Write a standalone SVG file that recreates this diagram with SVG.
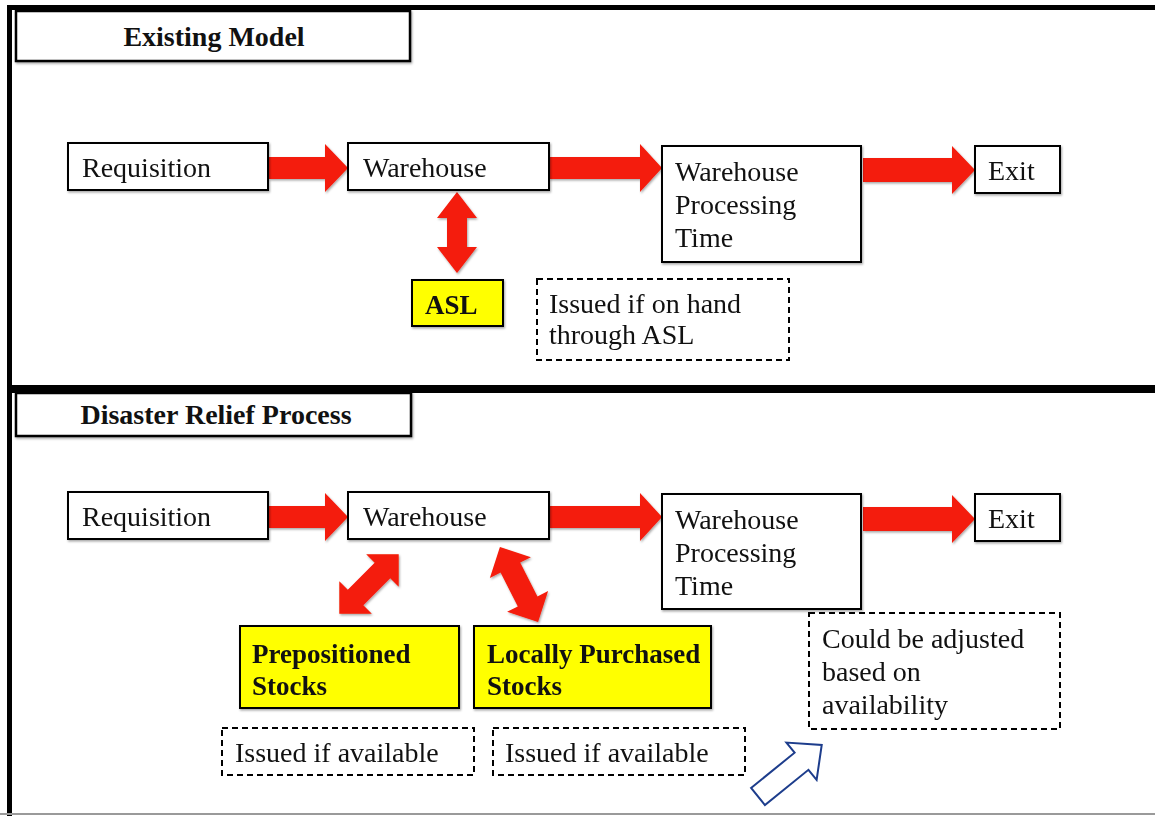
<svg xmlns="http://www.w3.org/2000/svg" width="1155" height="816" viewBox="0 0 1155 816">
  <style>
    .box { fill: #ffffff; stroke: #000000; stroke-width: 2; }
    .stock { fill: #ffff00; stroke: #000000; stroke-width: 2; }
    .note { fill: #ffffff; stroke: #000000; stroke-width: 2; stroke-dasharray: 6 4; }
    .title { fill: #ffffff; stroke: #000000; stroke-width: 2.5; }
    .red { fill: #f41a08; }
    .hollow { fill: #ffffff; stroke: #1d3d8c; stroke-width: 2; stroke-linejoin: miter; }
    text { font-family: "Liberation Serif", "Times New Roman", serif; font-size: 28px; fill: #111111; }
    .bold { font-weight: bold; }
    .sb { font-weight: bold; font-size: 27px; }
  </style>
  <defs>
    <filter id="shadow" x="-10%" y="-10%" width="120%" height="130%">
      <feDropShadow dx="1" dy="1.5" stdDeviation="1" flood-color="#000000" flood-opacity="0.35"/>
    </filter>
    <!-- double-headed block arrows, vertical, centred on the origin -->
    <polygon id="dbl81" points="0,-40.5 20,-14.5 10,-14.5 10,14.5 20,14.5 0,40.5 -20,14.5 -10,14.5 -10,-14.5 -20,-14.5"/>
    <polygon id="dbl82" points="0,-42 23,-19 11,-19 11,19 23,19 0,42 -23,19 -11,19 -11,-19 -23,-19"/>
  </defs>

  <rect width="1155" height="816" fill="#ffffff"/>

  <!-- frame -->
  <g id="frame">
    <rect x="7" y="5" width="1148" height="5" fill="#000000"/>
    <rect x="7" y="5" width="5" height="811" fill="#000000"/>
    <rect x="7" y="385" width="1148" height="8" fill="#000000"/>
    <rect x="0" y="813" width="1155" height="2" fill="#9a9a9a"/>
  </g>

  <!-- section titles -->
  <g id="title-existing">
    <rect class="title" x="16" y="11" width="394" height="50" filter="url(#shadow)"/>
    <text class="bold" x="214" y="46" text-anchor="middle">Existing Model</text>
  </g>
  <g id="title-disaster">
    <rect class="title" x="16" y="393" width="395" height="43" filter="url(#shadow)"/>
    <text class="bold" x="216" y="424" text-anchor="middle">Disaster Relief Process</text>
  </g>

  <!-- connectors -->
  <g id="connectors" filter="url(#shadow)">
    <!-- existing model flow -->
    <polygon class="red" points="269,157 325,157 325,144 348,168 325,192 325,179 269,179"/>
    <polygon class="red" points="549,157 640,157 640,144 662,168 640,192 640,179 549,179"/>
    <polygon class="red" points="863,158 952,158 952,146 975,170 952,194 952,182 863,182"/>
    <use href="#dbl81" class="red" transform="translate(457,232.5)"/>
    <!-- disaster relief flow -->
    <polygon class="red" points="269,506 325,506 325,493 348,517 325,541 325,528 269,528"/>
    <polygon class="red" points="549,506 640,506 640,493 662,517 640,541 640,528 549,528"/>
    <polygon class="red" points="863,507 952,507 952,495 975,519 952,543 952,531 863,531"/>
    <use href="#dbl82" class="red" transform="translate(369,584) rotate(45)"/>
    <use href="#dbl82" class="red" transform="translate(519,584.5) rotate(-27)"/>
  </g>
  <g id="pointer">
    <polygon class="hollow" transform="translate(758,796.5) rotate(-39)" points="0,-11 56,-11 56,-24 82,0 56,24 56,11 0,11"/>
  </g>

  <!-- existing model nodes -->
  <g id="req-1">
    <rect class="box" x="68" y="143" width="200" height="47" filter="url(#shadow)"/>
    <text x="82" y="177">Requisition</text>
  </g>
  <g id="wh-1">
    <rect class="box" x="348" y="143" width="201" height="47" filter="url(#shadow)"/>
    <text x="363" y="177">Warehouse</text>
  </g>
  <g id="wpt-1">
    <rect class="box" x="662" y="146" width="199" height="116" filter="url(#shadow)"/>
    <text x="675" y="181">Warehouse</text>
    <text x="675" y="214">Processing</text>
    <text x="675" y="247">Time</text>
  </g>
  <g id="exit-1">
    <rect class="box" x="975" y="146" width="85" height="47" filter="url(#shadow)"/>
    <text x="988" y="180">Exit</text>
  </g>
  <g id="asl">
    <rect class="stock" x="412" y="280" width="91" height="46" filter="url(#shadow)"/>
    <text class="sb" x="425" y="314">ASL</text>
  </g>
  <g id="note-asl">
    <rect class="note" x="537" y="279" width="252" height="81"/>
    <text x="549" y="313">Issued if on hand</text>
    <text x="549" y="344">through ASL</text>
  </g>

  <!-- disaster relief nodes -->
  <g id="req-2">
    <rect class="box" x="68" y="492" width="200" height="47" filter="url(#shadow)"/>
    <text x="82" y="526">Requisition</text>
  </g>
  <g id="wh-2">
    <rect class="box" x="348" y="492" width="201" height="47" filter="url(#shadow)"/>
    <text x="363" y="526">Warehouse</text>
  </g>
  <g id="wpt-2">
    <rect class="box" x="662" y="494" width="199" height="115" filter="url(#shadow)"/>
    <text x="675" y="529">Warehouse</text>
    <text x="675" y="562">Processing</text>
    <text x="675" y="595">Time</text>
  </g>
  <g id="exit-2">
    <rect class="box" x="975" y="494" width="85" height="47" filter="url(#shadow)"/>
    <text x="988" y="528">Exit</text>
  </g>
  <g id="prepositioned">
    <rect class="stock" x="240" y="626" width="219" height="82" filter="url(#shadow)"/>
    <text class="sb" x="252" y="663">Prepositioned</text>
    <text class="sb" x="252" y="695">Stocks</text>
  </g>
  <g id="local-purchase">
    <rect class="stock" x="474" y="626" width="237" height="82" filter="url(#shadow)"/>
    <text class="sb" x="487" y="663">Locally Purchased</text>
    <text class="sb" x="487" y="695">Stocks</text>
  </g>
  <g id="note-prepositioned">
    <rect class="note" x="222" y="728" width="252" height="47"/>
    <text x="235" y="762">Issued if available</text>
  </g>
  <g id="note-local">
    <rect class="note" x="493" y="728" width="252" height="47"/>
    <text x="505" y="762">Issued if available</text>
  </g>
  <g id="note-adjust">
    <rect class="note" x="809" y="613" width="251" height="116"/>
    <text x="822" y="648">Could be adjusted</text>
    <text x="822" y="681">based on</text>
    <text x="822" y="714">availability</text>
  </g>
</svg>
